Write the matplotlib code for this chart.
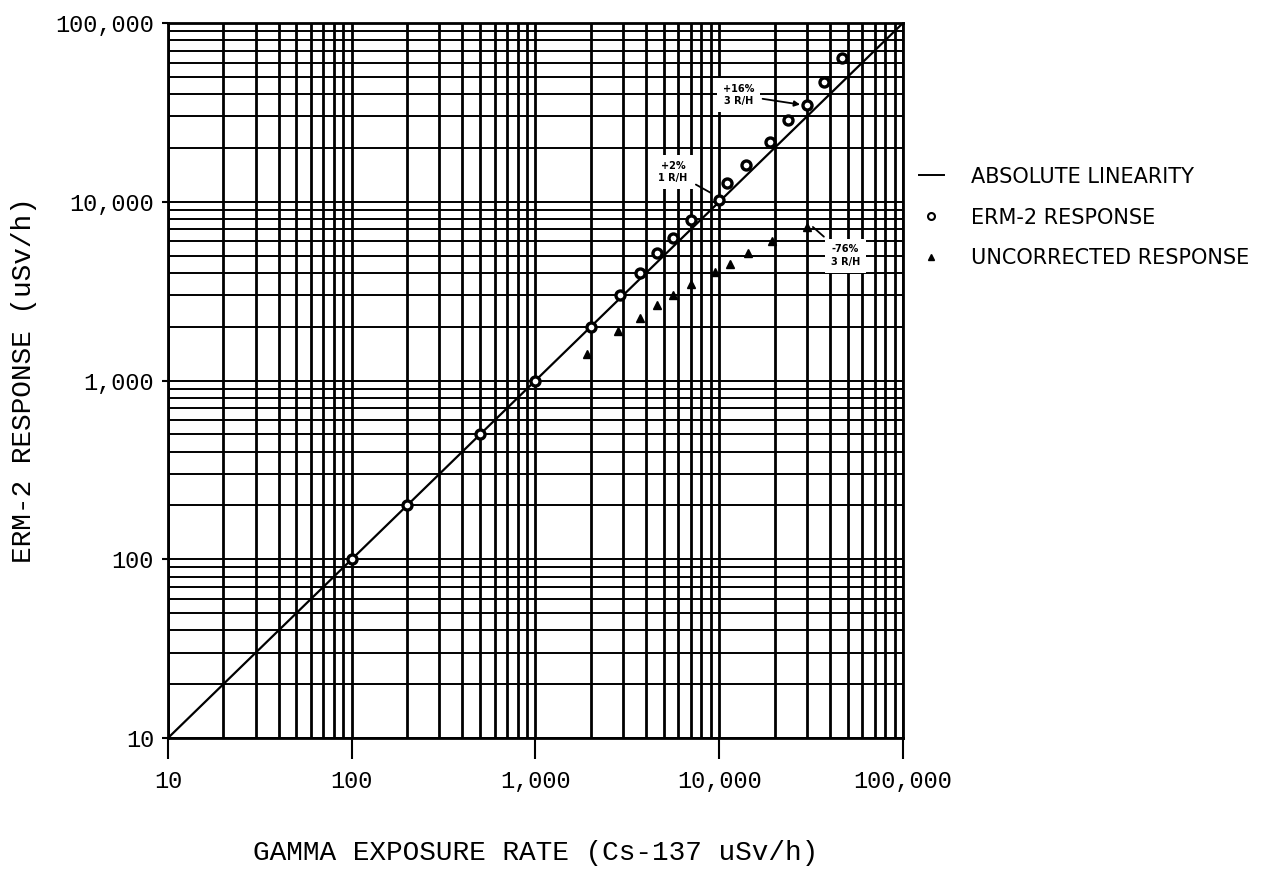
import numpy as np
import matplotlib.pyplot as plt
from matplotlib.lines import Line2D
from matplotlib.ticker import FixedLocator, FixedFormatter, LogLocator, NullFormatter

# Decade ticks shared by both axes
tick_values = [10, 100, 1000, 10000, 100000]
tick_labels = ["10", "100", "1,000", "10,000", "100,000"]

# Reference line y = x over the full range
linear_x = [10, 100000]
linear_y = [10, 100000]

# ERM-2 (energy-corrected) readings, uSv/h
erm_x = [100, 200, 500, 1000, 2000, 2900, 3700, 4600, 5600, 7000, 10000,
         11000, 14000, 19000, 23600, 30000, 37000, 46500]
erm_y = [100, 200, 500, 1000, 2000, 3000, 4000, 5200, 6300, 7900, 10200,
         12700, 16100, 21600, 28600, 34800, 46800, 63700]

# Uncorrected detector readings, uSv/h
unc_x = [1900, 2800, 3700, 4600, 5600, 7000, 9500, 11400, 14300, 19300, 30000]
unc_y = [1400, 1900, 2250, 2650, 3000, 3450, 4050, 4500, 5200, 6050, 7200]

mono = "Liberation Mono"

fig = plt.figure(figsize=(12.69, 8.73), dpi=100)
ax = fig.add_axes([168 / 1269, 1 - 738 / 873, (903 - 168) / 1269, (738 - 23) / 873])
ax.set_xscale("log")
ax.set_yscale("log")
ax.set_xlim(10, 100000)
ax.set_ylim(10, 100000)

# log-paper grid: every 1..9 line in each decade
for axis in (ax.xaxis, ax.yaxis):
    axis.set_major_locator(FixedLocator(tick_values))
    axis.set_major_formatter(FixedFormatter(tick_labels))
    axis.set_minor_locator(LogLocator(base=10, subs=np.arange(2, 10)))
    axis.set_minor_formatter(NullFormatter())
ax.xaxis.grid(True, which="both", color="black", lw=2.0)
ax.yaxis.grid(True, which="both", color="black", lw=1.4)
ax.set_axisbelow(True)
for s in ax.spines.values():
    s.set_linewidth(2.0)

ax.tick_params(which="minor", length=0)
ax.tick_params(axis="x", which="major", length=15, width=1.5, pad=8,
               labelsize=17)
ax.tick_params(axis="y", which="major", length=4, width=1.5, pad=6,
               labelsize=17)
for lab in ax.get_xticklabels() + ax.get_yticklabels():
    lab.set_family(mono)

ax.plot(linear_x, linear_y, color="black", lw=1.6, zorder=3)
ax.plot(erm_x, erm_y, ls="none", marker="o", ms=6.5, mfc="white", mec="black",
        mew=2.4, zorder=4)
ax.plot(unc_x, unc_y, ls="none", marker="^", ms=6, color="black", zorder=4)

ann_font = dict(fontsize=7, fontweight="bold", color="black",
                ha="center", va="center", linespacing=1.3)
box = dict(boxstyle="square,pad=0.6", fc="white", ec="none")

ax.annotate("+2%\n1 R/H", xy=(9300, 11000), xytext=(5600, 14700),
            bbox=box, arrowprops=dict(arrowstyle="-", color="black", lw=1.3),
            zorder=5, **ann_font)
ax.annotate("+16%\n3 R/H", xy=(28500, 34800), xytext=(12700, 39500),
            bbox=box, arrowprops=dict(arrowstyle="-|>", color="black", lw=1.3,
                                      mutation_scale=8),
            zorder=5, **ann_font)
ax.annotate("-76%\n3 R/H", xy=(31500, 7400), xytext=(48500, 5000),
            bbox=box, arrowprops=dict(arrowstyle="-", color="black", lw=1.3),
            zorder=5, **ann_font)

ax.set_xlabel("GAMMA EXPOSURE RATE (Cs-137 uSv/h)", family=mono, fontsize=20,
              labelpad=34)
ax.set_ylabel("ERM-2 RESPONSE (uSv/h)", family=mono, fontsize=20, labelpad=13)

handles = [
    Line2D([], [], color="black", lw=1.4),
    Line2D([], [], ls="none", marker="o", ms=5, mfc="white", mec="black", mew=1.5),
    Line2D([], [], ls="none", marker="^", ms=5, color="black"),
]
names = ["ABSOLUTE LINEARITY", "ERM-2 RESPONSE", "UNCORRECTED RESPONSE"]
fig.legend(handles, names, loc="upper left", bbox_to_anchor=(900 / 1269, 1 - 148 / 873),
           frameon=False, fontsize=15, handlelength=1.2, handletextpad=1.3,
           labelspacing=1.0)

fig.savefig("out.png", dpi=100)
